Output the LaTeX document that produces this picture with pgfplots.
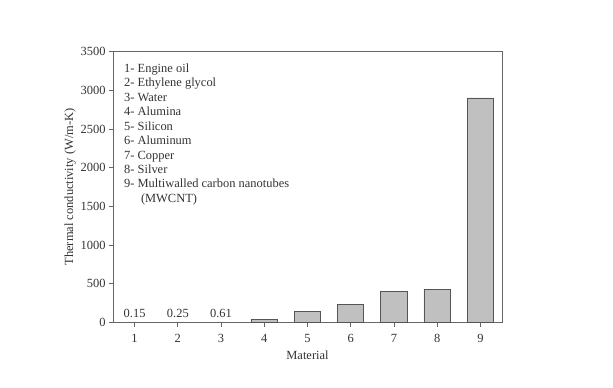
\documentclass[border=0pt]{standalone}
\usepackage{fontspec}
\setmainfont{Liberation Serif}
\usepackage{pgfplots}
\pgfplotsset{compat=1.18}
\definecolor{barfill}{HTML}{C0C0C0}
\definecolor{baredge}{HTML}{555555}
\definecolor{axcol}{HTML}{666666}
\begin{document}
\begin{tikzpicture}
\begin{axis}[
  scale only axis,
  width=389bp, height=271bp,
  xmin=0.5, xmax=9.5,
  ymin=0, ymax=3500,
  xtick={1,...,9},
  ytick={0,500,...,3500},
  tick align=outside,
  tick pos=left,
  major tick length=4bp,
  axis line style={axcol, line width=0.9pt},
  every tick/.style={axcol, line width=0.8pt},
  /pgf/number format/assume math mode=true,
  /pgf/number format/1000 sep={},
  tick label style={font=\fontsize{12.5}{14}\selectfont, text=black!80},
  xlabel={Material},
  ylabel={Thermal conductivity (W/m-K)},
  label style={font=\fontsize{12.5}{14}\selectfont, text=black!80},
  xlabel style={yshift=-2bp},
  ylabel style={yshift=-2bp},
  xticklabel style={yshift=-4bp},
]
\addplot[ybar, bar width=0.61, fill=barfill, draw=baredge, line width=0.9pt]
  coordinates {(4,40) (5,148) (6,237) (7,401) (8,429) (9,2900)};
\node[anchor=base, font=\fontsize{12.5}{14}\selectfont, text=black!80] at (axis cs:1,0) [yshift=5bp] {0.15};
\node[anchor=base, font=\fontsize{12.5}{14}\selectfont, text=black!80] at (axis cs:2,0) [yshift=5bp] {0.25};
\node[anchor=base, font=\fontsize{12.5}{14}\selectfont, text=black!80] at (axis cs:3,0) [yshift=5bp] {0.61};
\node[anchor=north west, align=left, inner sep=0pt, font=\fontsize{12.5}{14.5}\selectfont, text=black!80]
  at (rel axis cs:0,1) [xshift=11bp, yshift=-12bp]
  {1- Engine oil\\2- Ethylene glycol\\3- Water\\4- Alumina\\5- Silicon\\6- Aluminum\\7- Copper\\8- Silver\\9- Multiwalled carbon nanotubes\\\hspace*{1.35em}(MWCNT)};
\coordinate (sw) at (rel axis cs:0,0);
\coordinate (ne) at (rel axis cs:1,1);
\end{axis}
\path (sw) ++(-113bp,-65.3bp) coordinate (a);
\path (ne) ++(111bp,51.5bp) coordinate (b);
\path (a) rectangle (b);
\end{tikzpicture}
\end{document}
